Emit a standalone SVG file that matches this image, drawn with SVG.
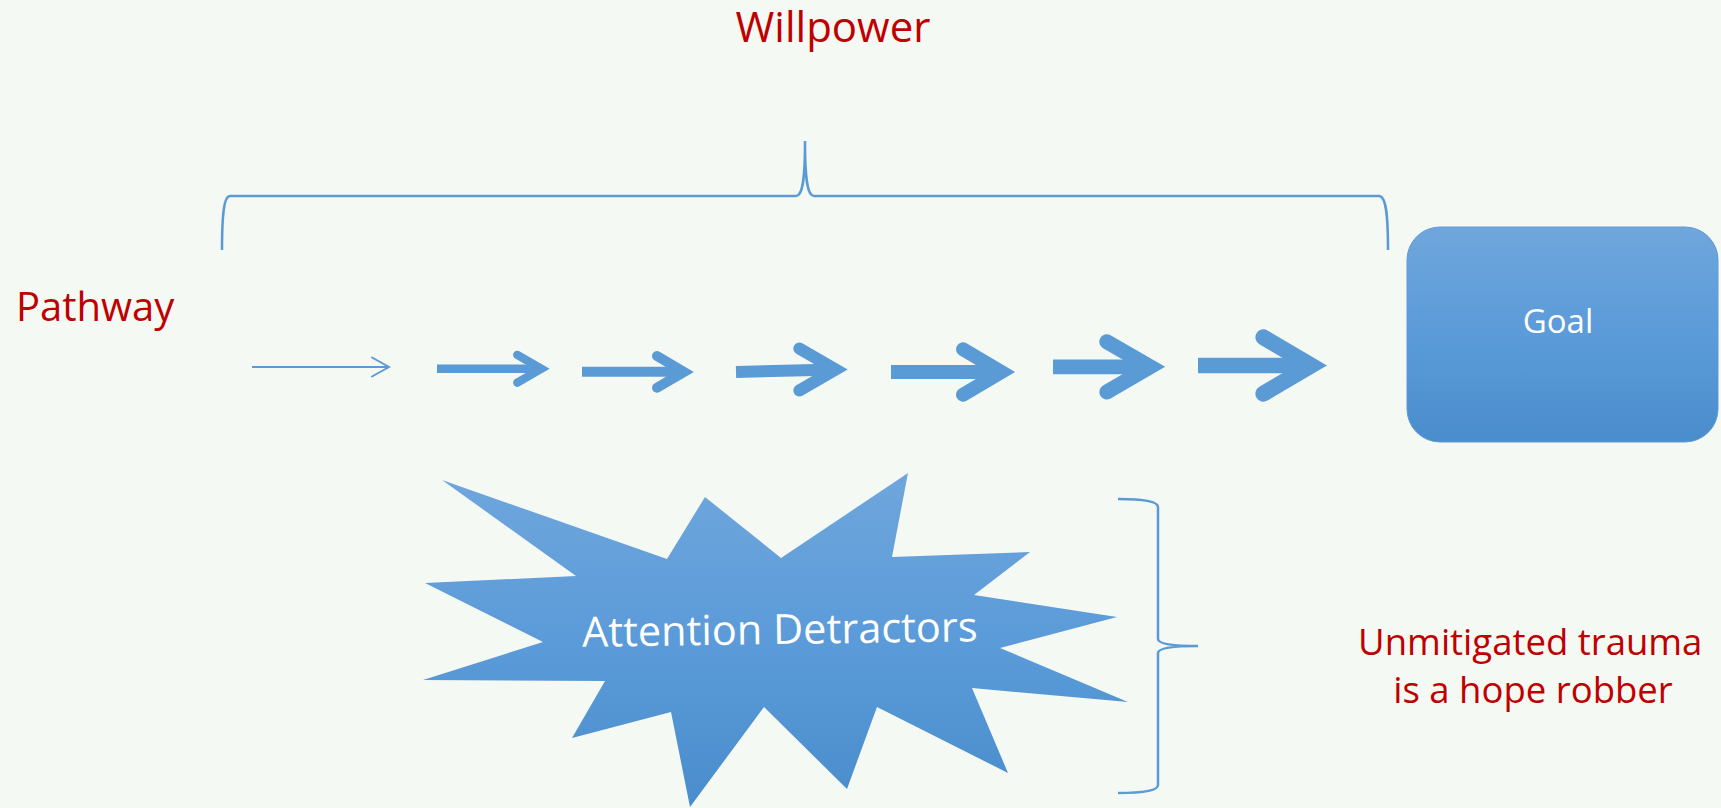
<svg xmlns="http://www.w3.org/2000/svg" width="1721" height="808" viewBox="0 0 1721 808">
  <defs>
    <linearGradient id="blueFill" x1="0" y1="0" x2="0" y2="1">
      <stop offset="0" stop-color="#6FA6DC"/>
      <stop offset="0.5" stop-color="#5B9BD9"/>
      <stop offset="1" stop-color="#4A8DCC"/>
    </linearGradient>
    <style>
      .label { font-family: "Open Sans", "Noto Sans", "Liberation Sans", sans-serif; fill: #C00000; }
      .inner { font-family: "Open Sans", "Noto Sans", "Liberation Sans", sans-serif; fill: #FFFFFF; }
      .brace { fill: none; stroke: #5B9BD5; stroke-width: 2.5; }
      .shaft { fill: none; stroke: #5B9BD5; stroke-linecap: butt; }
      .head { fill: none; stroke: #5B9BD5; stroke-linejoin: miter; stroke-miterlimit: 10; stroke-linecap: round; }
    </style>
  </defs>

  <rect width="1721" height="808" fill="#F5F9F3"/>

  <!-- headings -->
  <g id="willpower">
    <text class="label" x="833" y="42" font-size="42" text-anchor="middle">Willpower</text>
  </g>
  <g id="pathway">
    <text class="label" x="16" y="321" font-size="40">Pathway</text>
  </g>

  <!-- brace spanning the whole pathway -->
  <g id="willpower-brace">
    <path class="brace" d="M 222 250 C 222 214, 224 196, 230 196 L 796 196 C 802 196, 805 184, 805 141 C 805 184, 808 196, 814 196 L 1379 196 C 1386 196, 1388 214, 1388 250"/>
  </g>

  <!-- goal box -->
  <g id="goal">
    <rect x="1407" y="227" width="311" height="215" rx="33" ry="33" fill="url(#blueFill)" stroke="#5E9BD6" stroke-width="1"/>
    <text class="inner" x="1558" y="333" font-size="33" text-anchor="middle">Goal</text>
  </g>

  <!-- burst of detractors -->
  <g id="attention-detractors">
    <polygon fill="url(#blueFill)" points="442,480 667,559 705,497 781,558 908,473 892,557 1030,552 974,595 1117,617 1000,648 1128,702 972,688 1008,773 877,707 847,789 764,707 690,807 671,712 572,738 605,681 423,680 543,642 425,583 576,576"/>
    <text class="inner" x="780" y="644" font-size="41.5" text-anchor="middle" transform="rotate(-0.8 780 644)">Attention Detractors</text>
  </g>

  <!-- brace grouping the detractors -->
  <g id="trauma-brace">
    <path class="brace" d="M 1118 499 C 1142 499, 1158 501, 1158 507 L 1158 639 C 1158 644, 1172 646, 1198 646 C 1172 646, 1158 648, 1158 653 L 1158 785 C 1158 791, 1142 793, 1118 793"/>
  </g>

  <g id="trauma-note">
    <text class="label" font-size="36.5" text-anchor="middle">
      <tspan x="1535" y="655">Unmitigated trauma</tspan>
      <tspan x="1533" y="703">is a hope robber</tspan>
    </text>
  </g>

  <!-- pathway arrows, growing toward the goal -->
  <g id="connectors">
    <g id="arrow-1">
      <line class="shaft" x1="252" y1="367" x2="389" y2="367" stroke-width="2"/>
      <polyline class="head" points="372,357.5 389,367 372,376.5" stroke-width="2" stroke-linecap="butt"/>
    </g>
    <g id="arrow-2">
      <line class="shaft" x1="437" y1="368.7" x2="541" y2="368.7" stroke-width="8.4"/>
      <polyline class="head" points="517.3,354.9 541.3,368.8 517.3,382.7" stroke-width="8.4"/>
    </g>
    <g id="arrow-3">
      <line class="shaft" x1="582" y1="371.8" x2="684" y2="371.8" stroke-width="10"/>
      <polyline class="head" points="657,356 684,371.9 657,387.7" stroke-width="10"/>
    </g>
    <g id="arrow-4">
      <line class="shaft" x1="736" y1="372" x2="836" y2="369.5" stroke-width="12"/>
      <polyline class="head" points="799.3,348.5 835.7,369.5 799.3,390.5" stroke-width="12"/>
    </g>
    <g id="arrow-5">
      <line class="shaft" x1="891" y1="372" x2="1001" y2="372" stroke-width="14"/>
      <polyline class="head" points="963,349.2 1001.4,372 963,394.8" stroke-width="14"/>
    </g>
    <g id="arrow-6">
      <line class="shaft" x1="1053" y1="366.8" x2="1150" y2="366.8" stroke-width="14.7"/>
      <polyline class="head" points="1106.8,341.7 1150.2,366.8 1106.8,392" stroke-width="15"/>
    </g>
    <g id="arrow-7">
      <line class="shaft" x1="1198" y1="365.5" x2="1311" y2="365.5" stroke-width="15.7"/>
      <polyline class="head" points="1263.4,337.3 1311.2,365.5 1263.4,393.7" stroke-width="16"/>
    </g>
  </g>
</svg>
